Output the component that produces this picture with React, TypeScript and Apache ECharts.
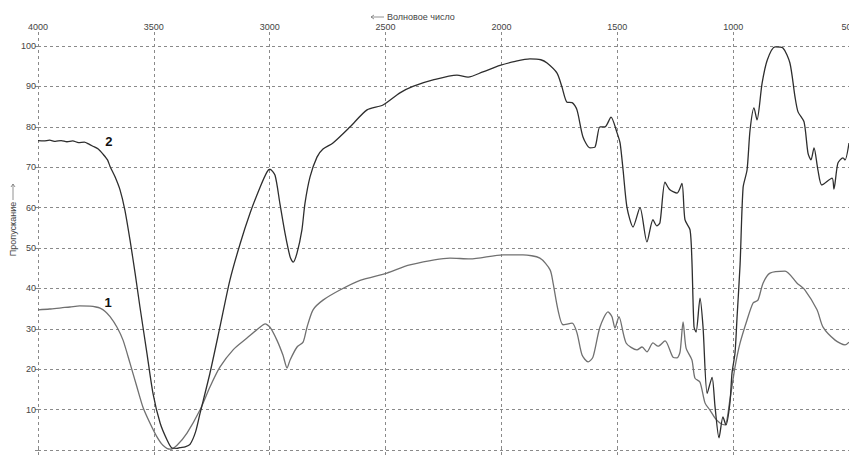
import React, { useEffect, useRef } from "react";
import * as echarts from "echarts";

// Curve 2 (upper, darker spectrum)
const wn2 = [
  4000, 3975, 3950, 3925, 3900, 3875, 3850, 3825, 3800, 3780, 3763, 3740, 3719, 3700, 3689, 3668,
  3646, 3625, 3603, 3581, 3560, 3530, 3504, 3473, 3443, 3422, 3400, 3387, 3365, 3344, 3320, 3301,
  3258, 3215, 3172, 3128, 3085, 3042, 3012, 2999, 2977, 2956, 2934, 2912, 2899, 2882, 2861, 2848,
  2826, 2796, 2770, 2727, 2653, 2580, 2511, 2438, 2382, 2295, 2192, 2144, 2080, 2006, 1940, 1877,
  1830, 1803, 1760, 1739, 1717, 1695, 1674, 1648, 1618, 1596, 1575, 1553, 1527, 1501, 1488, 1475,
  1458, 1432, 1402, 1372, 1346, 1330, 1316, 1294, 1273, 1242, 1221, 1208, 1186, 1178, 1169, 1160,
  1143, 1130, 1112, 1091, 1078, 1061, 1044, 1031, 1014, 1005, 992, 983, 970, 957, 940, 927, 910,
  897, 875, 853, 819, 785, 755, 733, 720, 694, 677, 664, 651, 634, 617, 573, 565, 548, 526, 517, 500,
];
const tr2 = [
  76.6, 76.5, 76.7, 76.4, 76.6, 76.3, 76.5, 76.1, 76.2, 75.7, 75.2, 74.5, 73.2, 71.8, 70.2, 67.7,
  64.4, 59.4, 52.0, 43.8, 35.4, 24.0, 14.1, 6.7, 2.5, 0.5, 0.4, 0.6, 0.8, 1.4, 4.5, 9.0,
  19.0, 30.4, 42.0, 51.0, 58.6, 65.0, 68.8, 69.5, 68.0, 61.0, 53.7, 47.8, 46.5, 48.8, 54.5, 61.0,
  67.6, 72.5, 74.5, 76.0, 80.0, 84.2, 85.4, 88.4, 90.0, 91.6, 92.8, 92.3, 93.6, 95.2, 96.2, 96.8,
  96.6, 95.8, 93.3, 89.9, 86.1, 86.0, 84.2, 77.5, 74.8, 75.0, 80.0, 80.0, 82.4, 78.5, 76.0, 69.3,
  60.0, 55.2, 60.0, 51.5, 57.0, 55.5, 56.2, 66.3, 64.4, 63.6, 66.0, 57.0, 54.5, 47.0, 30.5, 29.2,
  37.6, 30.5, 14.0, 18.0, 10.6, 3.0, 8.2, 6.2, 11.6, 19.0, 24.0, 33.0, 46.0, 65.0, 69.3, 79.2, 84.7,
  81.7, 90.8, 96.5, 99.8, 99.5, 95.8, 87.4, 83.7, 81.2, 73.5, 71.8, 74.8, 69.3, 65.6, 67.3, 64.6, 71.0, 72.3, 71.8, 76.0,
];

// Curve 1 (lower, lighter spectrum)
const wn1 = [
  4000, 3950, 3900, 3862, 3820, 3776, 3750, 3732, 3710, 3689, 3659, 3633, 3603, 3573, 3547, 3517,
  3486, 3461, 3430, 3400, 3357, 3301, 3258, 3215, 3158, 3098, 3042, 3020, 2999, 2969, 2943, 2925,
  2912, 2882, 2856, 2839, 2813, 2770, 2697, 2610, 2494, 2395, 2222, 2136, 1993, 1907, 1834, 1790,
  1777, 1756, 1734, 1695, 1674, 1652, 1626, 1605, 1575, 1540, 1523, 1510, 1493, 1462, 1415, 1393,
  1372, 1346, 1324, 1294, 1260, 1242, 1229, 1216, 1203, 1178, 1165, 1143, 1121, 1100, 1078, 1057,
  1035, 1014, 992, 970, 940, 914, 893, 871, 841, 776, 724, 690, 638, 612, 560, 517, 500,
];
const tr1 = [
  34.7, 34.9, 35.2, 35.4, 35.7, 35.6, 35.4, 35.1, 34.3, 33.0, 30.4, 27.2, 21.5, 15.6, 10.6, 6.7,
  3.2, 1.2, 0.2, 1.2, 4.2, 9.9, 15.6, 20.5, 24.8, 27.7, 30.4, 31.2, 30.4, 27.2, 23.5, 20.3,
  22.3, 25.5, 26.7, 30.4, 34.7, 37.1, 39.6, 42.0, 43.8, 45.8, 47.5, 47.3, 48.3, 48.3, 47.5, 44.6,
  41.3, 34.7, 31.0, 31.4, 29.0, 23.5, 21.8, 23.0, 30.4, 34.2, 33.0, 30.2, 33.0, 26.5, 24.8, 25.5,
  24.3, 26.5, 25.7, 27.0, 23.0, 22.8, 24.3, 31.7, 25.2, 22.3, 17.8, 16.8, 11.6, 9.9, 7.9, 6.7,
  6.2, 12.4, 20.5, 26.5, 32.2, 36.4, 37.1, 41.3, 43.8, 44.3, 41.3, 39.6, 34.7, 30.4, 27.2, 26.0, 26.7,
];

const xTicks = [500, 1000, 1500, 2000, 2500, 3000, 3500, 4000];
const yTicks = [10, 20, 30, 40, 50, 60, 70, 80, 90, 100];
const curveLabels = [
  { name: "2", wn: 3694, t: 76.3 },
  { name: "1", wn: 3697, t: 36.6 },
];

const zip = (a: number[], b: number[]) => a.map((v, i) => [v, b[i]]);

export default function App() {
  const ref = useRef<HTMLDivElement>(null);
  useEffect(() => {
    if (!ref.current) return;
    const chart = echarts.init(ref.current, undefined, { renderer: "svg" });
    const font = "'Liberation Sans', Arial, sans-serif";
    const gridLine = { show: true, lineStyle: { color: "#8a8a8a", type: [3, 3] as any, width: 1 } };
    const labelMark = (name: string, wn: number, t: number) => ({
      symbol: "circle",
      symbolSize: 1,
      itemStyle: { color: "rgba(0,0,0,0)" },
      label: {
        show: true,
        position: "inside",
        color: "#111",
        fontSize: 13,
        fontWeight: "bold",
        fontFamily: font,
        formatter: (p: any) => p.name,
      },
      data: [{ name, coord: [wn, t] }],
    });
    chart.setOption({
      animation: false,
      backgroundColor: "#ffffff",
      grid: { left: 38, right: 0, top: 32, bottom: 0, containLabel: false, outerBoundsMode: "none" },
      xAxis: {
        type: "value",
        position: "top",
        inverse: true,
        min: 500,
        max: 4000,
        interval: 500,
        axisLine: { show: false },
        axisTick: { show: true, length: 3, lineStyle: { color: "#8a8a8a" } },
        axisLabel: {
          margin: 1,
          fontSize: 9,
          color: "#444",
          fontFamily: font,
          hideOverlap: false,
          formatter: (v: number) => (xTicks.includes(v) ? String(v) : ""),
        },
        splitLine: gridLine,
      },
      yAxis: {
        type: "value",
        min: -1.73,
        max: 103.47,
        splitNumber: 10,
        axisLine: { show: false },
        axisTick: { show: true, length: 3, lineStyle: { color: "#8a8a8a" } },
        axisLabel: {
          margin: 2,
          fontSize: 9,
          color: "#444",
          fontFamily: font,
          showMinLabel: false,
          showMaxLabel: false,
          formatter: (v: number) => (yTicks.includes(Math.round(v * 100) / 100) ? String(v) : ""),
        },
        splitLine: { ...gridLine, showMaxLine: false },
      },
      series: [
        {
          type: "line",
          name: "1",
          data: zip(wn1, tr1),
          showSymbol: false,
          smooth: 0.25,
          lineStyle: { color: "#707070", width: 1.3 },
          markPoint: labelMark(curveLabels[1].name, curveLabels[1].wn, curveLabels[1].t),
        },
        {
          type: "line",
          name: "2",
          data: zip(wn2, tr2),
          showSymbol: false,
          smooth: 0.25,
          lineStyle: { color: "#2e2e2e", width: 1.3 },
          markPoint: labelMark(curveLabels[0].name, curveLabels[0].wn, curveLabels[0].t),
        },
      ],
      graphic: [
        { type: "line", shape: { x1: 371, y1: 17, x2: 384, y2: 17 }, style: { stroke: "#777", lineWidth: 0.8 } },
        { type: "polyline", shape: { points: [[374, 15], [371, 17], [374, 19]] }, style: { stroke: "#777", lineWidth: 0.8, fill: "none" } },
        {
          type: "text",
          x: 387,
          y: 17,
          style: { text: "Волновое число", fontSize: 9, fill: "#444", fontFamily: font, verticalAlign: "middle", align: "left" },
        },
        {
          type: "text",
          x: 13,
          y: 229,
          rotation: Math.PI / 2,
          style: { text: "Пропускание", fontSize: 9, fill: "#444", fontFamily: font, verticalAlign: "middle", align: "center" },
        },
        { type: "line", shape: { x1: 13, y1: 200, x2: 13, y2: 184 }, style: { stroke: "#777", lineWidth: 0.8 } },
        { type: "polyline", shape: { points: [[11, 187], [13, 184], [15, 187]] }, style: { stroke: "#777", lineWidth: 0.8, fill: "none" } },
      ],
    });
    return () => chart.dispose();
  }, []);
  return <div ref={ref} style={{ position: "absolute", left: 0, top: 0, width: 849, height: 457 }} />;
}
